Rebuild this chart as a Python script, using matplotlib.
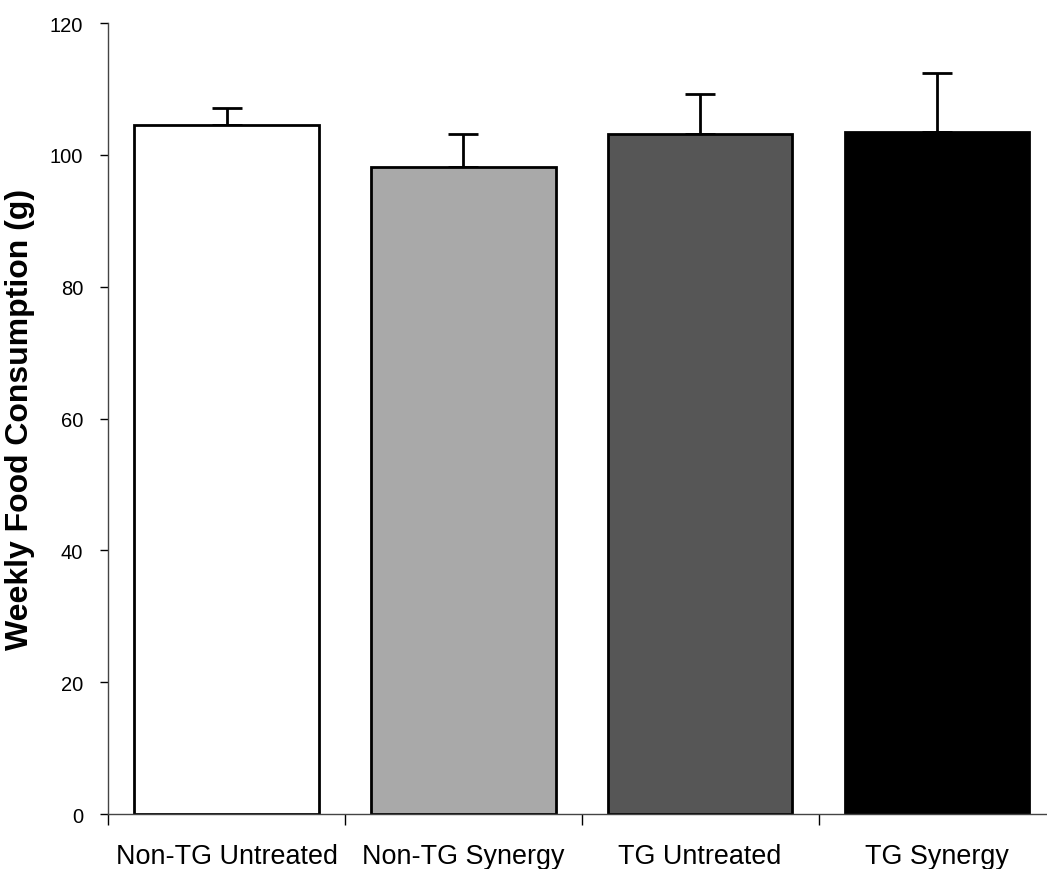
import matplotlib
matplotlib.use("Agg")
import matplotlib.pyplot as plt

plt.rcParams["font.family"] = ["Liberation Sans", "DejaVu Sans"]

groups = ["Non-TG Untreated", "Non-TG Synergy", "TG Untreated", "TG Synergy"]
means = [104.6, 98.2, 103.2, 103.5]
errors = [2.6, 5.0, 6.0, 8.9]
colors = ["#ffffff", "#a9a9a9", "#565656", "#000000"]

fig = plt.figure(figsize=(10.47, 8.7), dpi=100)
ax = fig.add_axes([0.1034, 0.0632, 0.9045, 0.909])

x = list(range(len(groups)))
ax.bar(x, means, width=0.78, color=colors, edgecolor="black", linewidth=2, zorder=2)
ax.errorbar(x, means, yerr=[[0] * len(errors), errors], fmt="none",
            ecolor="black", elinewidth=2, capsize=11, capthick=2, zorder=1)

ax.set_xlim(-0.5, 3.5)
ax.set_ylim(0, 120)
ax.set_yticks([0, 20, 40, 60, 80, 100, 120])

# category ticks between the bars, labels centred under them
ax.set_xticks([-0.5, 0.5, 1.5, 2.5, 3.5])
ax.set_xticklabels([])
ax.set_xticks(x, minor=True)
ax.set_xticklabels(groups, minor=True, fontsize=19.4)
ax.tick_params(axis="x", which="minor", length=0, pad=21)
ax.tick_params(axis="x", which="major", length=8, width=1, direction="out")
ax.tick_params(axis="y", length=6, width=1, labelsize=14.5, pad=12)

for side in ["top", "right"]:
    ax.spines[side].set_visible(False)
for side in ["left", "bottom"]:
    ax.spines[side].set_color("#444444")
    ax.spines[side].set_linewidth(1)

ax.set_ylabel("Weekly Food Consumption (g)", fontsize=23, fontweight="bold")
ax.yaxis.set_label_coords(-0.077, 0.5)

fig.savefig("out.png", dpi=100)
